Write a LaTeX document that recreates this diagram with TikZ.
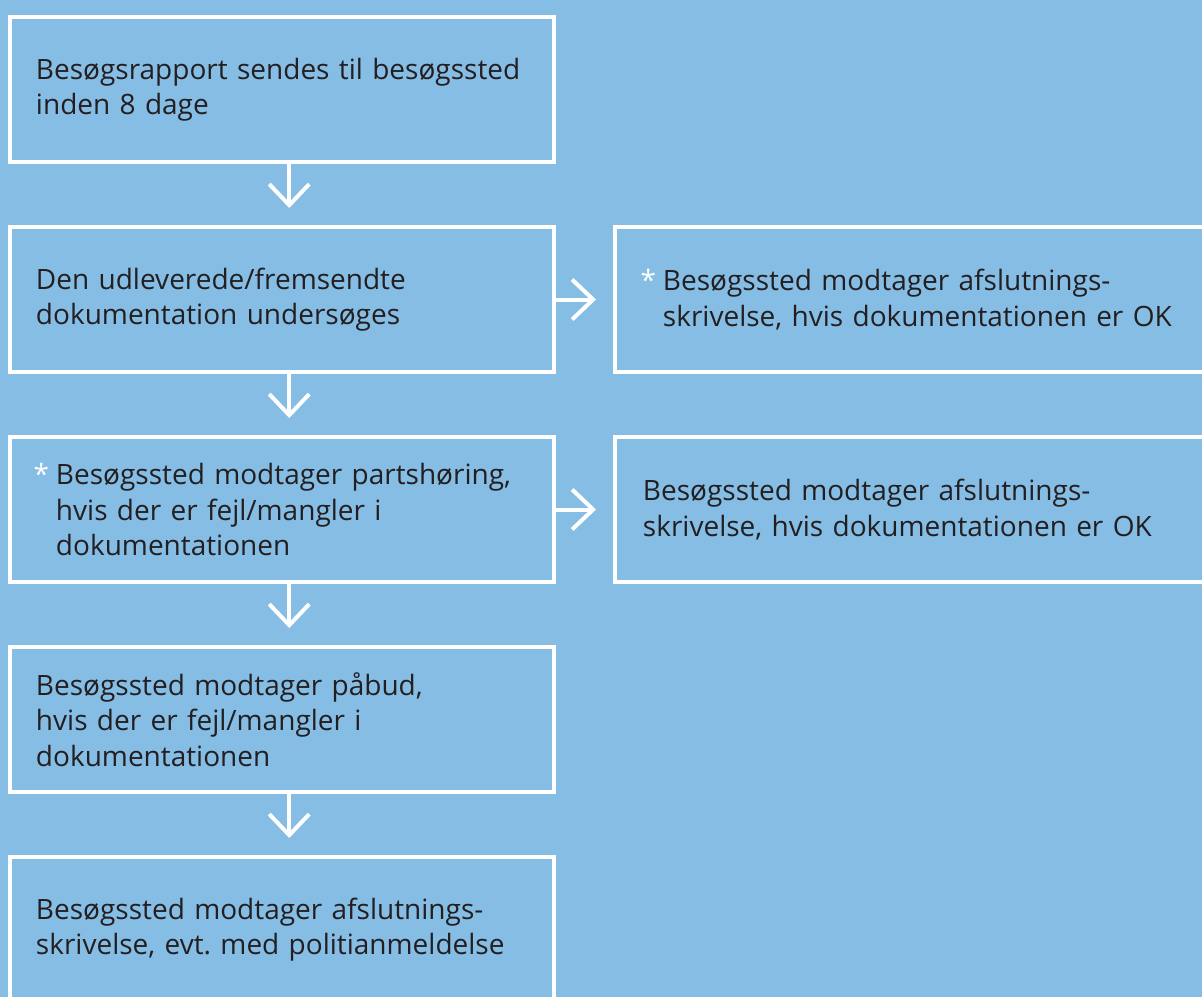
\documentclass[tikz,border=0pt]{standalone}
\usepackage{fontspec}
\setmainfont{Open Sans}
\usetikzlibrary{positioning, arrows.meta, matrix}
\definecolor{himmelblaa}{RGB}{134,189,229}
\definecolor{tekstsort}{RGB}{35,31,32}
\tikzset{
  boks/.style={draw=white, line width=4pt, minimum height=145pt, inner sep=0pt,
    anchor=center, text=tekstsort, align=left, font=\fontsize{28}{35.5}\selectfont},
  venstre/.style={boks, minimum width=543.5pt, text width=492.5pt},
  hoejre/.style={boks, minimum width=615pt, text width=559pt},
  stjerne/.style={execute at begin node={\leftskip=20pt\leavevmode\llap{\textcolor{white}{*}\hspace{7pt}}}},
  pil/.style={draw=white, line width=4pt, shorten >=17pt,
    -{Straight Barb[length=21pt,width=40pt,sharp]}},
}

\begin{document}
\begin{tikzpicture}[x=1pt, y=-1pt]
	\fill[himmelblaa] (0,0) rectangle (1202,997);
	\useasboundingbox (0,0) rectangle (1202,997);
	\matrix (m) [matrix of nodes, row sep=61pt, column sep=57pt,
		nodes={venstre}, matrix anchor=m-1-1.north west, at={(8.5,15)}]
	{
		{Besøgsrapport sendes til besøgssted\\ inden 8 dage} & \\
		{Den udleverede/fremsendte\\ dokumentation undersøges} &
		|[hoejre, stjerne]| {Besøgssted modtager afslutnings-\\ skrivelse, hvis dokumentationen er OK} \\
		|[stjerne]| {Besøgssted modtager partshøring,\\ hvis der er fejl/mangler i\\ dokumentationen} &
		|[hoejre]| {Besøgssted modtager afslutnings-\\ skrivelse, hvis dokumentationen er OK} \\
		{Besøgssted modtager påbud,\\ hvis der er fejl/mangler i\\ dokumentationen} & \\
		{Besøgssted modtager afslutnings-\\ skrivelse, evt.\ med politianmeldelse} & \\
	};
	% pile ned og til hoejre
	\foreach \i [evaluate=\i as \j using int(\i+1)] in {1,...,4}
		\draw[pil] ([xshift=7pt]m-\i-1.south) -- ([xshift=7pt]m-\j-1.north);
	\draw[pil] (m-2-1) -- (m-2-2);
	\draw[pil] (m-3-1) -- (m-3-2);
\end{tikzpicture}
\end{document}
